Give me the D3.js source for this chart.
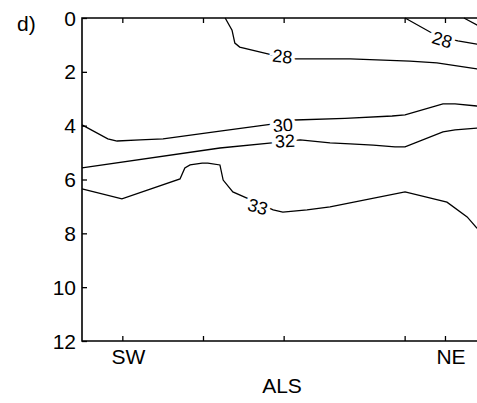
<!DOCTYPE html>
<html>
<head>
<meta charset="utf-8">
<script src="https://cdn.jsdelivr.net/npm/d3@7"></script>
<style>
  body { margin: 0; background: #fff; }
  svg { display: block; }
  text { font-family: "Liberation Sans", Arial, sans-serif; fill: #000; }
</style>
</head>
<body>
<svg id="chart" width="477" height="403"></svg>
<script>
// station positions along the section, depth in m
const xTicks = [1, 3, 5, 8, 9];
const xTickLabels = ["SW", "", "", "", "NE"];
const yTicks = [0, 2, 4, 6, 8, 10, 12];

// contour lines: [distance, depth]
const c26 = [[9.47, 0], [9.79, 0.26], [10, 0.41]];
const c28a = [[3.55, 0], [3.72, 0.45], [3.79, 0.93], [3.91, 1.08], [4.71, 1.37], [5.28, 1.52],
  [6.65, 1.52], [8.13, 1.6], [8.8, 1.67], [9.79, 1.89], [10, 1.97]];
const c28b = [[8.01, 0], [8.63, 0.52], [8.93, 0.72], [9.32, 0.85], [9.79, 0.97], [10, 1.02]];
const c30 = [[0, 3.97], [0.64, 4.49], [0.87, 4.57], [1.44, 4.53], [2.01, 4.49], [3.42, 4.2],
  [4.71, 3.94], [5.28, 3.79], [6.52, 3.73], [7.69, 3.64], [8.01, 3.6], [8.95, 3.19],
  [9.25, 3.19], [9.79, 3.27], [10, 3.29]];
const c32 = [[0, 5.57], [3.42, 4.83], [4.71, 4.64], [5.41, 4.53], [6.15, 4.64], [6.65, 4.68],
  [7.22, 4.72], [7.76, 4.79], [8.01, 4.79], [8.95, 4.23], [9.25, 4.16], [9.79, 4.09], [10, 4.09]];
const c33 = [[0, 6.35], [0.99, 6.72], [2.43, 5.98], [2.55, 5.57], [2.68, 5.46], [2.98, 5.39],
  [3.12, 5.39], [3.42, 5.46], [3.5, 6.02], [3.74, 6.46], [4.09, 6.69], [4.74, 7.13],
  [4.98, 7.21], [5.58, 7.13], [6.15, 7.02], [8.01, 6.46], [9.05, 6.84], [9.55, 7.39],
  [9.79, 7.8], [10, 8.02]];

const contours = [c26, c28a, c28b, c30, c32, c33];

// inline labels: [distance, depth, text, angle]
const labels = [
  [4.97, 1.42, "28", 6],
  [8.93, 0.8, "28", 17],
  [4.98, 3.98, "30", -4],
  [5.03, 4.56, "32", -3],
  [4.36, 7.0, "33", 16]
];

const svg = d3.select("#chart");

const x = d3.scaleLinear().domain([0, 10]).range([82, 485.3]);
const y = d3.scaleLinear().domain([0, 12]).range([18, 341]);

const line = d3.line()
  .x((d) => x(d[0]))
  .y((d) => y(d[1]));

svg.selectAll(".contour")
  .data(contours)
  .enter()
  .append("path")
  .classed("contour", true)
  .attr("d", line)
  .attr("fill", "none")
  .attr("stroke", "#000")
  .attr("stroke-width", 1.3);

svg.selectAll(".clabel")
  .data(labels)
  .enter()
  .append("text")
  .classed("clabel", true)
  .attr("transform", (d) => `translate(${x(d[0])},${y(d[1])}) rotate(${d[3]})`)
  .attr("text-anchor", "middle")
  .attr("dy", "0.36em")
  .style("font-size", "18px")
  .style("paint-order", "stroke")
  .attr("stroke", "#fff")
  .attr("stroke-width", 7)
  .text((d) => d[2]);

// axes
const leftAxis = svg.append("g")
  .attr("transform", `translate(${x(0)},0)`)
  .call(d3.axisRight(y).tickValues(yTicks).tickSize(5).tickFormat(""));

const bottomAxis = svg.append("g")
  .attr("transform", `translate(0,${y(12)})`)
  .call(d3.axisTop(x).tickValues(xTicks).tickSize(5).tickFormat(""));

const topAxis = svg.append("g")
  .attr("transform", `translate(0,${y(0)})`)
  .call(d3.axisBottom(x).tickValues(xTicks).tickSize(5).tickFormat(""));

svg.selectAll(".domain").remove();
svg.selectAll(".tick line").attr("stroke", "#000").attr("stroke-width", 1.3);

svg.append("path")
  .attr("d", `M${x(10)},${y(0)}H${x(0)}V${y(12)}H${x(10)}`)
  .attr("fill", "none")
  .attr("stroke", "#000")
  .attr("stroke-width", 1.6);

svg.selectAll(".ylab")
  .data(yTicks)
  .enter()
  .append("text")
  .attr("x", x(0) - 6)
  .attr("y", (d) => y(d))
  .attr("dy", "0.36em")
  .attr("text-anchor", "end")
  .style("font-size", "21px")
  .text((d) => d);

svg.selectAll(".xlab")
  .data(xTicks)
  .enter()
  .append("text")
  .attr("x", (d) => x(d) + 6)
  .attr("y", 364)
  .attr("text-anchor", "middle")
  .style("font-size", "21px")
  .text((d, i) => xTickLabels[i]);

svg.append("text")
  .attr("x", 282)
  .attr("y", 393)
  .attr("text-anchor", "middle")
  .style("font-size", "21px")
  .text("ALS");

svg.append("text")
  .attr("x", 17)
  .attr("y", 31)
  .style("font-size", "21px")
  .text("d)");
</script>
</body>
</html>
